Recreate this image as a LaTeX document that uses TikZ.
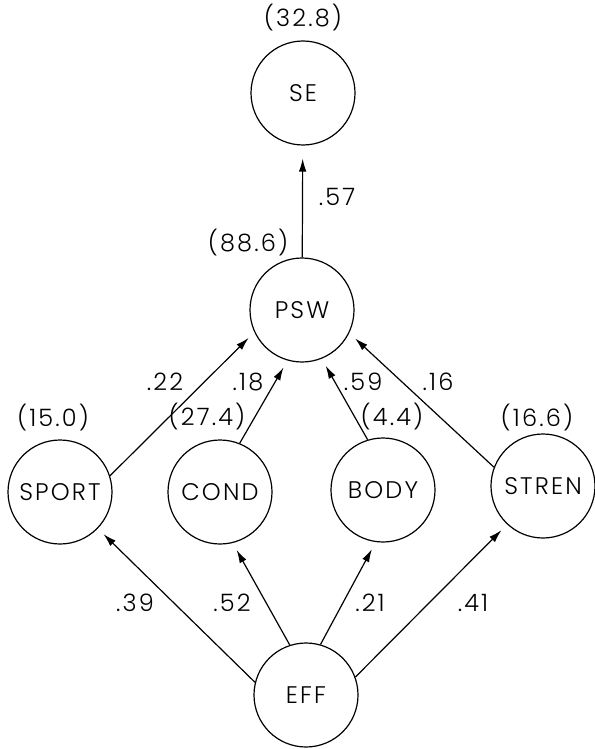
\documentclass[tikz,border=0pt]{standalone}
\usepackage{fontspec}
\setmainfont{Poppins}[UprightFont=* Light, LetterSpace=9]
\usetikzlibrary{arrows.meta,positioning}

\begin{document}
\begin{tikzpicture}[x=0.5pt, y=-0.5pt, line width=0.6pt,
    >={Latex[length=6.5pt,width=3.8pt]},
    var/.style={circle, draw, minimum size=52pt, inner sep=0pt, font=\fontsize{12}{14}\selectfont},
    val/.style={inner sep=0pt, font=\fontsize{12}{14}\selectfont}]

  \useasboundingbox (0,0) rectangle (594,749);

  % Variables of the path model
  \node[var] (se)    at (303,93)  {SE};
  \node[var] (psw)   at (302,310) {PSW};
  \node[var] (sport) at (60,492)  {SPORT};
  \node[var] (cond)  at (220,492) {COND};
  \node[var] (body)  at (383,490) {BODY};
  \node[var] (stren) at (543,486) {STREN};
  \node[var] (eff)   at (306,695) {EFF};

  % Values in brackets
  \node[val] (v-se)    at (303,18)  {(32.8)};
  \node[val] (v-psw)   at (248,243) {(88.6)};
  \node[val] (v-sport) at (53,418)  {(15.0)};
  \node[val] (v-cond)  at (207,417) {(27.4)};
  \node[val] (v-body)  at (392,417) {(4.4)};
  \node[val] (v-stren) at (537,418) {(16.6)};

  % Paths
  \draw[->, shorten >=6.5pt] (psw) -- (se);
  \path[->, shorten >=4pt]
    (sport.18)  edge (psw.205)
    (cond.68)   edge (psw.254)
    (body.107)  edge (psw.292)
    (stren.159) edge (psw.334)
    (eff.166)   edge (sport.316)
    (eff.108)   edge (cond.284)
    (eff.74)    edge (body.262)
    (eff.20)    edge (stren.227);

  % Path weights
  \node[val] (w-se)    at (337,197) {.57};
  \node[val] (w-sport) at (165,382) {.22};
  \node[val] (w-cond)  at (248,382) {.18};
  \node[val] (w-body)  at (363,382) {.59};
  \node[val] (w-stren) at (438,382) {.16};
  \node[val] (e-sport) at (135,603) {.39};
  \node[val] (e-cond)  at (232,603) {.52};
  \node[val] (e-body)  at (370,603) {.21};
  \node[val] (e-stren) at (473,603) {.41};

\end{tikzpicture}
\end{document}
